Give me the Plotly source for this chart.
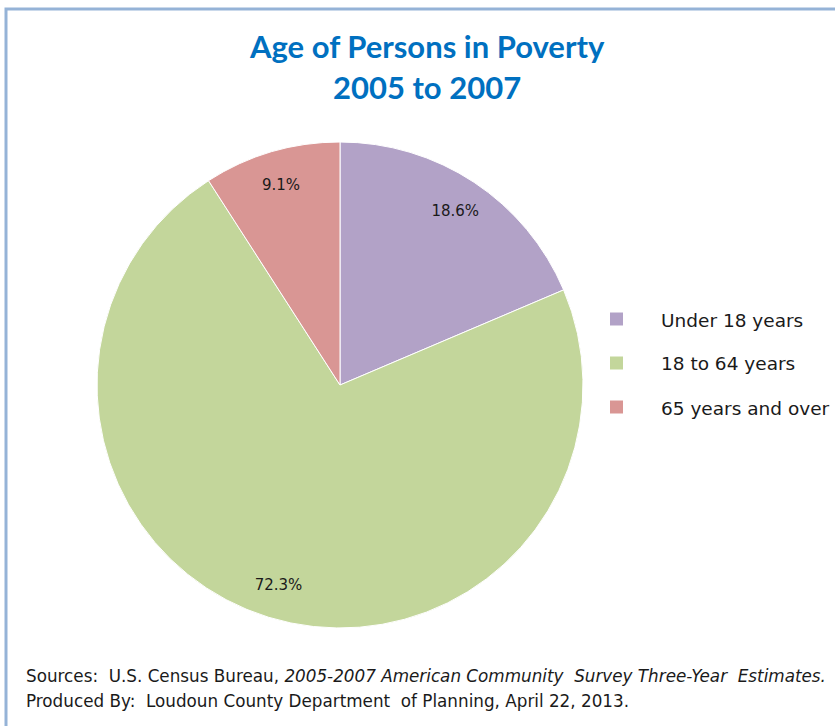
import plotly.graph_objects as go

W, H = 835, 726

categories = ["Under 18 years", "18 to 64 years", "65 years and over"]
values = [18.6, 72.3, 9.1]
colors = ["#B2A2C7", "#C3D69B", "#D99694"]
title_lines = ["Age of Persons in Poverty", "2005 to 2007"]
source_lines = [
    "Sources:  U.S. Census Bureau, <i>2005-2007 American Community  Survey Three-Year  Estimates.</i>",
    "Produced By:  Loudoun County Department  of Planning, April 22, 2013.",
]

TFONT = "Lato, Carlito, 'Open Sans', sans-serif"
BFONT = "'DejaVu Sans', Verdana, sans-serif"

dom = dict(x=[97 / W, 583 / W], y=[(H - 628) / H, (H - 142) / H])

fig = go.Figure()
# main pie (colours, no text)
fig.add_trace(go.Pie(
    labels=categories, values=values, sort=False,
    direction="clockwise", rotation=0,
    marker=dict(colors=colors, line=dict(color="white", width=1)),
    textinfo="none", hoverinfo="label+percent",
    showlegend=False, domain=dom,
))
# transparent overlay ring used only to place the value labels further out
fig.add_trace(go.Pie(
    labels=categories, values=values, sort=False,
    direction="clockwise", rotation=0, hole=0.72,
    marker=dict(colors=["rgba(0,0,0,0)"] * 3, line=dict(width=0)),
    texttemplate="%{value:.1f}%", textposition="inside",
    insidetextorientation="horizontal",
    textfont=dict(family=BFONT, size=15, color="#1a1a1a"),
    hoverinfo="skip", showlegend=False, domain=dom,
))

annotations = []
for i, t in enumerate(title_lines):
    annotations.append(dict(
        text="<b>%s</b>" % t, x=427 / W, y=1 - (46 + 41 * i) / H,
        xref="paper", yref="paper", xanchor="center", yanchor="middle",
        showarrow=False, font=dict(family=TFONT, size=31, color="#0070C0"),
    ))

shapes = []
leg_y = [319, 363, 407]
for cat, col, yy in zip(categories, colors, leg_y):
    shapes.append(dict(
        type="rect", xref="paper", yref="paper",
        x0=610 / W, x1=623 / W, y0=1 - (yy + 6.5) / H, y1=1 - (yy - 6.5) / H,
        fillcolor=col, line=dict(width=0),
    ))
    annotations.append(dict(
        text=cat, x=659 / W, y=1 - (yy + 1) / H, xref="paper", yref="paper",
        xanchor="left", yanchor="middle", showarrow=False,
        font=dict(family=BFONT, size=18.5, color="#1a1a1a"),
    ))

for i, s in enumerate(source_lines):
    annotations.append(dict(
        text=s, x=24 / W, y=1 - (676 + 25 * i) / H, xref="paper", yref="paper",
        xanchor="left", yanchor="middle", showarrow=False,
        font=dict(family=BFONT, size=16.8, color="#1a1a1a"),
    ))

shapes.append(dict(
    type="rect", xref="paper", yref="paper",
    x0=6 / W, x1=1.02, y0=-0.02, y1=1 - 9 / H,
    line=dict(color="#95B3D7", width=3), fillcolor="rgba(0,0,0,0)",
))

fig.update_layout(
    width=W, height=H,
    margin=dict(l=0, r=0, t=0, b=0),
    paper_bgcolor="white", plot_bgcolor="white",
    annotations=annotations, shapes=shapes,
    font=dict(family=BFONT),
)

fig.write_html("out.html", config={"displayModeBar": False},
               post_script="document.body.style.margin='0';")
